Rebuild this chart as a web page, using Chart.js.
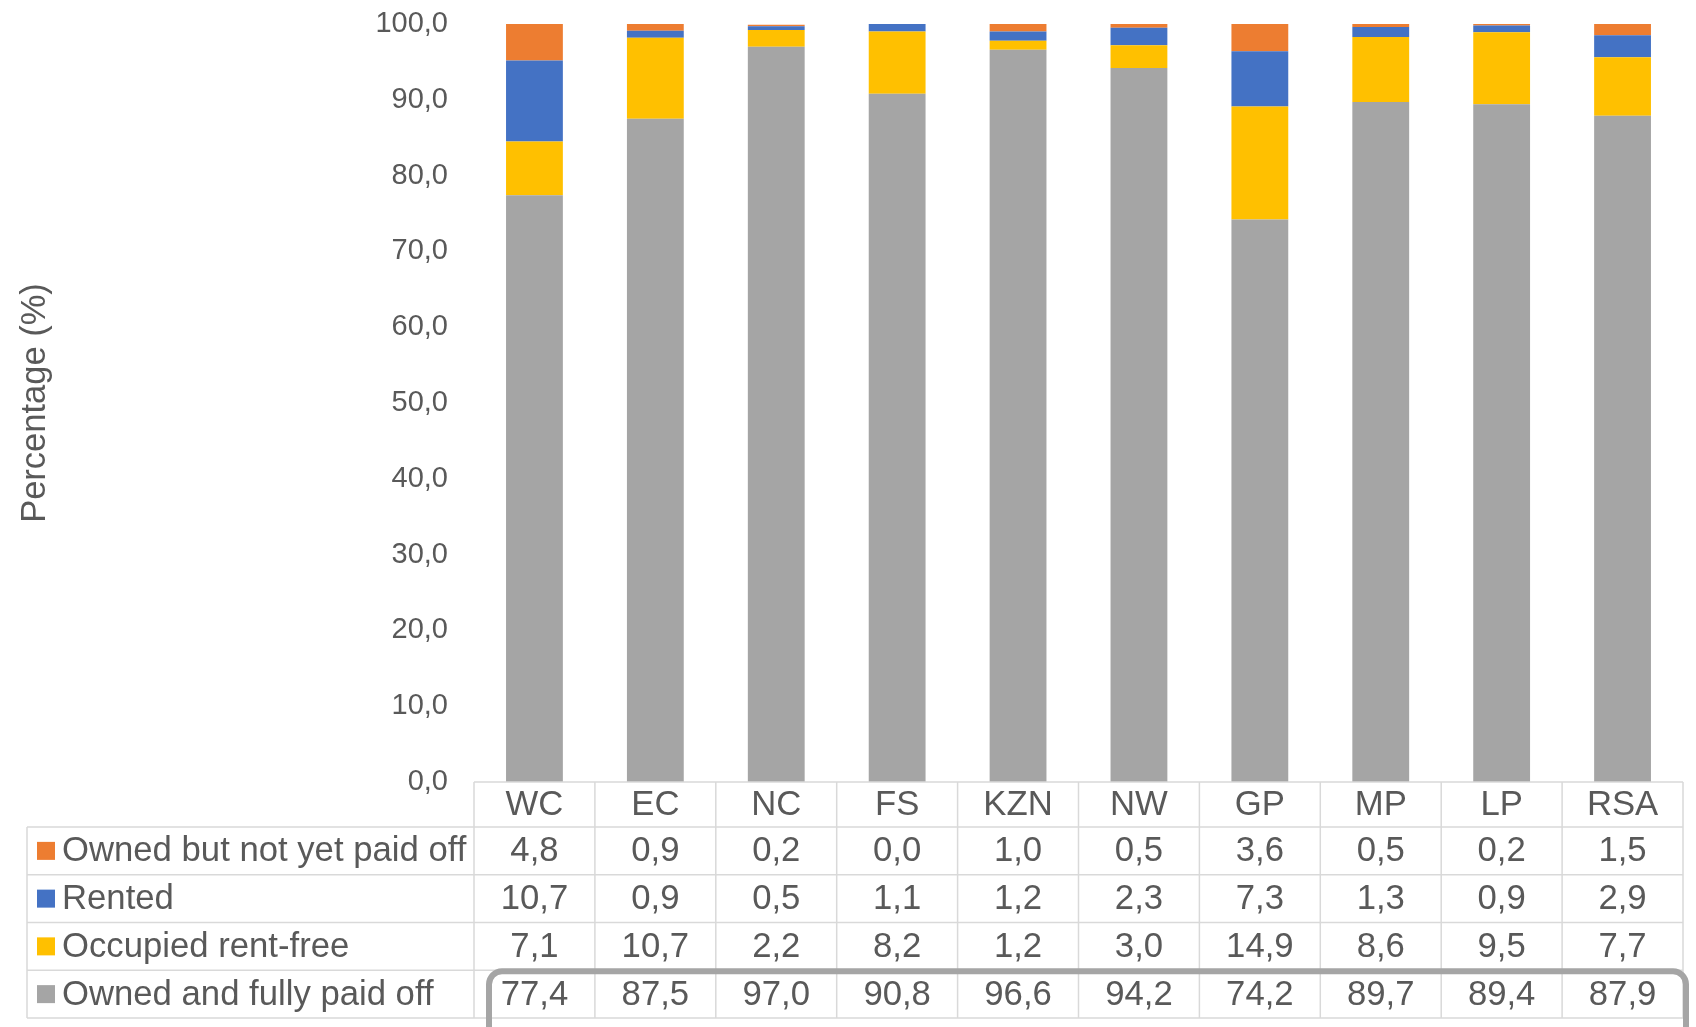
<!DOCTYPE html>
<html>
<head>
<meta charset="utf-8">
<script src="https://cdn.jsdelivr.net/npm/chart.js@4.4.1/dist/chart.umd.min.js"></script>
<style>
  html, body { margin: 0; padding: 0; background: #ffffff; }
  #wrap { width: 1696px; height: 1027px; }
</style>
</head>
<body>
<div id="wrap"><canvas id="c" width="1696" height="1027"></canvas></div>
<script>
const categories = ['WC', 'EC', 'NC', 'FS', 'KZN', 'NW', 'GP', 'MP', 'LP', 'RSA'];
const ownedFullyPaidOff = [77.4, 87.5, 97.0, 90.8, 96.6, 94.2, 74.2, 89.7, 89.4, 87.9];
const occupiedRentFree  = [7.1, 10.7, 2.2, 8.2, 1.2, 3.0, 14.9, 8.6, 9.5, 7.7];
const rented            = [10.7, 0.9, 0.5, 1.1, 1.2, 2.3, 7.3, 1.3, 0.9, 2.9];
const ownedNotPaidOff   = [4.8, 0.9, 0.2, 0.0, 1.0, 0.5, 3.6, 0.5, 0.2, 1.5];
const seriesLabels = ['Owned and fully paid off', 'Occupied rent-free', 'Rented', 'Owned but not yet paid off'];
const seriesColors = ['#A5A5A5', '#FFC000', '#4472C4', '#ED7D31'];
const yMin = 0, yMax = 100, yStep = 10;
const axisTitle = 'Percentage (%)';

const seriesData = [ownedFullyPaidOff, occupiedRentFree, rented, ownedNotPaidOff];
const fmt = v => Number(v).toFixed(1).replace('.', ',');
const FONT = '"Liberation Sans", Arial, sans-serif';
const TEXT = '#595959';

const tablePlugin = {
  id: 'dataTable',
  afterDraw(chart) {
    const ctx = chart.ctx;
    const area = chart.chartArea;
    const xs = chart.scales.x;
    const n = categories.length;
    const cw = (area.right - area.left) / n;
    const top = area.bottom;
    const headerH = 45;
    const rowH = 47.75;
    const tableLeft = 27;
    const rowsTop = top + headerH;
    const nRows = seriesData.length;
    const bottom = rowsTop + rowH * nRows;

    ctx.save();
    ctx.strokeStyle = '#D9D9D9';
    ctx.lineWidth = 1.5;
    ctx.beginPath();
    ctx.moveTo(area.left, top); ctx.lineTo(area.right, top);
    for (let r = 0; r <= nRows; r++) {
      const y = rowsTop + r * rowH;
      ctx.moveTo(tableLeft, y); ctx.lineTo(area.right, y);
    }
    for (let i = 0; i <= n; i++) {
      const x = area.left + i * cw;
      ctx.moveTo(x, top); ctx.lineTo(x, bottom);
    }
    ctx.moveTo(tableLeft, rowsTop); ctx.lineTo(tableLeft, bottom);
    ctx.stroke();

    ctx.fillStyle = TEXT;
    ctx.font = '34.7px ' + FONT;
    ctx.textAlign = 'center';
    ctx.textBaseline = 'middle';
    for (let i = 0; i < n; i++) {
      ctx.fillText(categories[i], xs.getPixelForValue(i), top + headerH / 2 + 1);
    }
    for (let r = 0; r < nRows; r++) {
      const s = nRows - 1 - r;
      const yc = rowsTop + r * rowH + rowH / 2 + 1;
      ctx.fillStyle = seriesColors[s];
      ctx.fillRect(37, yc - 10, 18, 18);
      ctx.fillStyle = TEXT;
      ctx.textAlign = 'left';
      ctx.fillText(seriesLabels[s], 62, yc);
      ctx.textAlign = 'center';
      for (let i = 0; i < n; i++) {
        ctx.fillText(fmt(seriesData[s][i]), xs.getPixelForValue(i), yc);
      }
    }

    const bx = area.left + 15, by = rowsTop + rowH * (nRows - 1) + 1;
    const bw = area.right + 3 - bx, bh = 80, rad = 13;
    ctx.strokeStyle = '#A5A5A5';
    ctx.lineWidth = 6;
    ctx.beginPath();
    ctx.moveTo(bx, by + bh);
    ctx.lineTo(bx, by + rad);
    ctx.arcTo(bx, by, bx + rad, by, rad);
    ctx.lineTo(bx + bw - rad, by);
    ctx.arcTo(bx + bw, by, bx + bw, by + rad, rad);
    ctx.lineTo(bx + bw, by + bh);
    ctx.stroke();
    ctx.restore();
  }
};

new Chart(document.getElementById('c'), {
  type: 'bar',
  data: {
    labels: categories,
    datasets: seriesData.map((d, i) => ({
      label: seriesLabels[i],
      data: d,
      backgroundColor: seriesColors[i],
      borderWidth: 0,
      barPercentage: 0.47,
      categoryPercentage: 1.0
    }))
  },
  options: {
    responsive: false,
    animation: false,
    layout: { padding: { top: 24, right: 13, bottom: 245, left: 0 } },
    plugins: { legend: { display: false }, tooltip: { enabled: false } },
    scales: {
      x: {
        stacked: true,
        ticks: { display: false },
        grid: { display: false, drawTicks: false },
        border: { display: false }
      },
      y: {
        stacked: true,
        min: yMin, max: yMax,
        afterFit(scale) { scale.width = 474; },
        ticks: {
          stepSize: yStep,
          padding: 3,
          color: TEXT,
          font: { family: FONT, size: 29 },
          callback: v => fmt(v)
        },
        grid: { display: false, drawTicks: true, tickLength: 23 },
        border: { display: false },
        title: {
          display: true,
          text: axisTitle,
          color: TEXT,
          font: { family: FONT, size: 34.5 },
          padding: { top: 15, bottom: 0 }
        }
      }
    }
  },
  plugins: [tablePlugin]
});
</script>
</body>
</html>
